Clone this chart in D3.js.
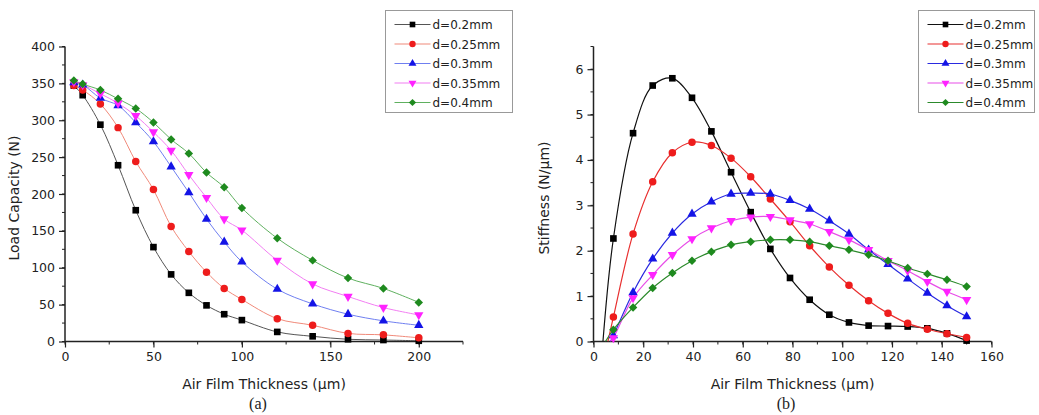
<!DOCTYPE html>
<html>
<head>
<meta charset="utf-8">
<script src="https://cdn.jsdelivr.net/npm/d3@7"></script>
<style>
  html, body { margin: 0; padding: 0; background: #fff; }
  svg { display: block; }
  text { font-family: "DejaVu Sans", Verdana, sans-serif; fill: #222; }
</style>
</head>
<body>
<svg id="chart" width="1039" height="415"></svg>
<script>
// ---------- DATA ----------
const seriesNames = ["d=0.2mm", "d=0.25mm", "d=0.3mm", "d=0.35mm", "d=0.4mm"];
const seriesColors = ["#000000", "#ee1c1c", "#1414e6", "#ff22ff", "#1e8a1e"];
const lineColorsA = ["#555555", "#f08a7a", "#6f7ff0", "#f27ef2", "#5fb05f"];
const lineColorsB = ["#111111", "#e83030", "#2a2ae0", "#e84ee8", "#2c8a2c"];
const seriesSymbols = ["square", "circle", "triangle", "triangleDown", "diamond"];

// (a) Load capacity
const thicknessA = [5, 10, 20, 30, 40, 50, 60, 70, 80, 90, 100, 120, 140, 160, 180, 200];
const load02  = [347, 334, 294, 239, 178, 128, 91, 66, 49, 37, 29, 13, 7, 3, 2, 1];
const load025 = [347, 341, 322, 290, 244, 206, 156, 122, 94, 72, 57, 31, 22, 11, 9, 5];
const load03  = [351, 348, 330, 320, 297, 271, 237, 202, 166, 135, 108, 71, 51, 37, 28, 22];
const load035 = [352, 348, 336, 323, 306, 284, 259, 226, 195, 166, 151, 110, 78, 61, 46, 36];
const load04  = [354, 349, 341, 329, 316, 297, 274, 255, 229, 209, 181, 140, 110, 86, 72, 53];
const loadSeries = [load02, load025, load03, load035, load04];
const xTicksA = [0, 50, 100, 150, 200];
const yTicksA = [0, 50, 100, 150, 200, 250, 300, 350, 400];

// (b) Stiffness
const thicknessB = [8, 15.9, 23.8, 31.7, 39.6, 47.4, 55.3, 63.2, 71.1, 79, 86.9, 94.8, 102.7, 110.6, 118.4, 126.3, 134.2, 142.1, 150];
const stiff02  = [2.27, 4.59, 5.64, 5.80, 5.37, 4.63, 3.73, 2.85, 2.04, 1.40, 0.92, 0.59, 0.42, 0.35, 0.34, 0.33, 0.29, 0.18, 0.02];
const stiff025 = [0.54, 2.37, 3.52, 4.16, 4.39, 4.32, 4.04, 3.63, 3.14, 2.64, 2.11, 1.64, 1.24, 0.90, 0.62, 0.40, 0.27, 0.17, 0.09];
const stiff03  = [0.13, 1.08, 1.82, 2.39, 2.81, 3.08, 3.25, 3.27, 3.25, 3.11, 2.92, 2.66, 2.37, 2.02, 1.70, 1.38, 1.07, 0.79, 0.55];
const stiff035 = [0.08, 0.96, 1.47, 1.91, 2.26, 2.50, 2.66, 2.74, 2.75, 2.68, 2.59, 2.42, 2.24, 2.02, 1.78, 1.56, 1.32, 1.10, 0.92];
const stiff04  = [0.26, 0.75, 1.18, 1.51, 1.78, 1.98, 2.13, 2.20, 2.24, 2.24, 2.20, 2.11, 2.02, 1.91, 1.78, 1.62, 1.49, 1.36, 1.21];
const stiffSeries = [stiff02, stiff025, stiff03, stiff035, stiff04];
// thickness where each fitted curve meets zero stiffness (curve start, no marker)
const stiffZeroStart = [3.8, 5.8, 6.8, 6.8, 4.8];
const xTicksB = [0, 20, 40, 60, 80, 100, 120, 140, 160];
const yTicksB = [0, 1, 2, 3, 4, 5, 6];

// ---------- DRAWING ----------
const svg = d3.select("#chart");

function symbolPath(kind) {
  if (kind === "square") return d3.symbol(d3.symbolSquare, 44)();
  if (kind === "circle") return d3.symbol(d3.symbolCircle, 44)();
  if (kind === "triangle" || kind === "triangleDown") return d3.symbol(d3.symbolTriangle, 38)();
  if (kind === "diamond") return d3.symbol(d3.symbolSquare, 36)();
  return d3.symbol(d3.symbolCircle, 36)();
}
function symbolRotate(kind) {
  if (kind === "triangleDown") return 180;
  if (kind === "diamond") return 45;
  return 0;
}

function drawPanel(cfg) {
  const g = svg.append("g");
  const x = d3.scaleLinear().domain(cfg.xDomain).range([cfg.left, cfg.right]);
  const y = d3.scaleLinear().domain(cfg.yDomain).range([cfg.bottom, cfg.top]);

  // minor ticks
  const xMinor = d3.range(cfg.xDomain[0], cfg.xDomain[1] + 1e-9, cfg.xMinorStep);
  const yMinor = d3.range(cfg.yDomain[0], cfg.yDomain[1] + 1e-9, cfg.yMinorStep);
  g.append("g").selectAll("line").data(xMinor).join("line")
    .attr("x1", d => x(d)).attr("x2", d => x(d))
    .attr("y1", cfg.bottom).attr("y2", cfg.bottom + 3)
    .attr("stroke", "#222").attr("stroke-width", 1);
  g.append("g").selectAll("line").data(yMinor).join("line")
    .attr("y1", d => y(d)).attr("y2", d => y(d))
    .attr("x1", cfg.left).attr("x2", cfg.left - 3)
    .attr("stroke", "#222").attr("stroke-width", 1);

  // axes
  const xAxis = d3.axisBottom(x).tickValues(cfg.xTicks).tickSize(6).tickPadding(5).tickFormat(d3.format("d"));
  const yAxis = d3.axisLeft(y).tickValues(cfg.yTicks).tickSize(6).tickPadding(4).tickFormat(d3.format("d"));
  const gx = g.append("g").attr("transform", `translate(0,${cfg.bottom})`).call(xAxis);
  const gy = g.append("g").attr("transform", `translate(${cfg.left},0)`).call(yAxis);
  [gx, gy].forEach(a => {
    a.select(".domain").attr("stroke", "#222").attr("stroke-width", 1.5);
    a.selectAll(".tick line").attr("stroke", "#222").attr("stroke-width", 1.2);
    a.selectAll(".tick text").attr("font-size", 12.5).attr("fill", "#222")
      .attr("font-family", "DejaVu Sans, Verdana, sans-serif");
  });
  gx.select(".domain").attr("d", `M${cfg.left},0H${cfg.right}`);
  gy.select(".domain").attr("d", `M0,${cfg.bottom}V${cfg.top}`);

  // clip
  const clipId = "clip" + cfg.id;
  svg.append("clipPath").attr("id", clipId).append("rect")
    .attr("x", cfg.left).attr("y", cfg.top - 10)
    .attr("width", cfg.right - cfg.left).attr("height", cfg.bottom - cfg.top + 10);

  // lines
  const line = d3.line().x(d => x(d[0])).y(d => y(d[1])).curve(d3.curveCatmullRom.alpha(0.5));
  cfg.series.forEach((vals, i) => {
    let pts = cfg.xs.map((xv, k) => [xv, vals[k]]);
    if (cfg.zeroStart) pts = [[cfg.zeroStart[i], 0]].concat(pts);
    g.append("path").attr("d", line(pts))
      .attr("fill", "none").attr("stroke", cfg.lineColors[i])
      .attr("stroke-width", cfg.lineWidth)
      .attr("clip-path", `url(#${clipId})`);
  });
  // markers
  cfg.series.forEach((vals, i) => {
    const kind = seriesSymbols[i];
    g.append("g").selectAll("path").data(cfg.xs.map((xv, k) => [xv, vals[k]])).join("path")
      .attr("d", symbolPath(kind))
      .attr("transform", d => `translate(${x(d[0])},${y(d[1])}) rotate(${symbolRotate(kind)})`)
      .attr("fill", seriesColors[i]);
  });

  // axis titles
  g.append("text").attr("x", (cfg.left + cfg.right) / 2).attr("y", cfg.bottom + 47)
    .attr("text-anchor", "middle").attr("font-size", 14).text("Air Film Thickness (μm)");
  g.append("text")
    .attr("transform", `translate(${cfg.yTitleX},${(cfg.top + cfg.bottom) / 2 + 4}) rotate(-90)`)
    .attr("text-anchor", "middle").attr("font-size", 14).text(cfg.yTitle);
  g.append("text").attr("x", cfg.panelLabelX).attr("y", 409)
    .attr("text-anchor", "middle").attr("font-size", 16)
    .style("font-family", "'Liberation Serif', 'Times New Roman', serif")
    .text(cfg.panelLabel);

  // legend
  const L = cfg.legend;
  const lg = g.append("g");
  lg.append("rect").attr("x", L.x).attr("y", L.y).attr("width", L.w).attr("height", L.h)
    .attr("fill", "#fff").attr("stroke", "#999").attr("stroke-width", 1);
  seriesNames.forEach((name, i) => {
    const yy = L.y + 14 + i * 19.5;
    lg.append("line").attr("x1", L.x + 9).attr("x2", L.x + 45).attr("y1", yy).attr("y2", yy)
      .attr("stroke", cfg.lineColors[i]).attr("stroke-width", 1.2);
    const kind = seriesSymbols[i];
    lg.append("path")
      .attr("d", symbolPath(kind))
      .attr("transform", `translate(${L.x + 27},${yy}) rotate(${symbolRotate(kind)}) scale(0.85)`)
      .attr("fill", seriesColors[i]);
    lg.append("text").attr("x", L.x + 47).attr("y", yy + 4.5).attr("font-size", 12).text(name);
  });
}

drawPanel({
  id: "a", left: 65, right: 463, top: 46.5, bottom: 341.5,
  xDomain: [0, 225], yDomain: [0, 400], xMinorStep: 25, yMinorStep: 25,
  xTicks: xTicksA, yTicks: yTicksA, xs: thicknessA, series: loadSeries,
  lineColors: lineColorsA, lineWidth: 1,
  yTitle: "Load Capacity (N)", yTitleX: 19, panelLabel: "(a)", panelLabelX: 258,
  legend: { x: 385.5, y: 10.5, w: 127, h: 102 }
});
drawPanel({
  id: "b", left: 593.5, right: 991.5, top: 46.5, bottom: 341.5,
  xDomain: [0, 160], yDomain: [0, 6.5], xMinorStep: 10, yMinorStep: 0.5,
  xTicks: xTicksB, yTicks: yTicksB, xs: thicknessB, series: stiffSeries,
  zeroStart: stiffZeroStart,
  lineColors: lineColorsB, lineWidth: 1.2,
  yTitle: "Stiffness (N/μm)", yTitleX: 549, panelLabel: "(b)", panelLabelX: 786,
  legend: { x: 918.5, y: 10.5, w: 116, h: 102 }
});
</script>
</body>
</html>
